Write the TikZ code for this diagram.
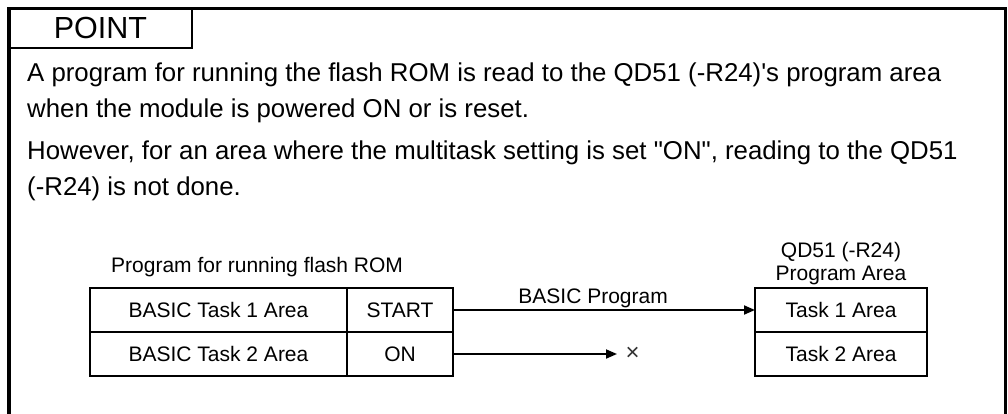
\documentclass[tikz,border=0pt]{standalone}
\usepackage{fontspec}
\setmainfont{Liberation Sans}
\usetikzlibrary{arrows.meta}
\usetikzlibrary{positioning}
\tikzset{cell/.style = {draw, line width=1.5pt, inner sep=0, outer sep=0,
                        minimum height=44pt, font=\fontsize{21}{25}\selectfont}}
\tikzset{txt/.style = {inner sep=0, anchor=base west, font=\fontsize{25.8}{31}\selectfont}}
\tikzset{note/.style = {inner sep=0, font=\fontsize{21}{25}\selectfont}}
\tikzset{arr/.style = {line width=1.8pt, -{Triangle[length=11pt,width=9pt]}}}

\begin{document}
\begin{tikzpicture}[x=1pt, y=-1pt]
      \useasboundingbox (0, 0) rectangle (1008, 414);

      % frame and tab
      \draw [line width=3.5pt] (9, 414) -- (9, 8.7) -- (1005.5, 8.7) -- (1005.5, 414);
      \node [draw, line width=2pt, inner sep=0, outer sep=0, minimum width=183pt,
             minimum height=39.3pt, font=\fontsize{30.5}{36}\selectfont] (point)
            at (100.5, 28.35) {POINT};

      \node [txt] (line1) at (27, 82) {A program for running the flash ROM is read to the QD51 (-R24)\textquotesingle s program area};
      \node [txt] (line2) at (27, 117.5) {when the module is powered ON or is reset.};
      \node [txt] (line3) at (27, 160) {However, for an area where the multitask setting is set \textquotedbl ON\textquotedbl, reading to the QD51};
      \node [txt] (line4) at (27, 195) {(-R24) is not done.};

      % flash ROM side
      \node [note, anchor=base west] (romtitle) at (111, 272) {Program for running flash ROM};
      \node [cell, minimum width=257pt] (task1) at (218.5, 310) {BASIC Task 1 Area};
      \node [cell, minimum width=106pt, right=0pt of task1] (start) {START};
      \node [cell, minimum width=257pt, below=0pt of task1] (task2) {BASIC Task 2 Area};
      \node [cell, minimum width=106pt, right=0pt of task2] (on) {ON};

      % QD51 side
      \node [note, anchor=base] (qdtitle) at (841, 257) {QD51 (-R24)};
      \node [note, anchor=base] (areatitle) at (841, 280) {Program Area};
      \node [cell, minimum width=172pt] (area1) at (841, 310) {Task 1 Area};
      \node [cell, minimum width=172pt, below=0pt of area1] (area2) {Task 2 Area};

      \draw [arr] (start) -- (area1)
            node [note, pos=0.464, anchor=base, yshift=7pt] (progtitle) {BASIC Program};

      \coordinate (stop) at (617, 354);
      \draw [arr] (on) -- (stop);
      \node [inner sep=0, font=\fontsize{24}{28}\selectfont, black!80] (cross) at (632.5, 354) {×};
    \end{tikzpicture}
\end{document}
